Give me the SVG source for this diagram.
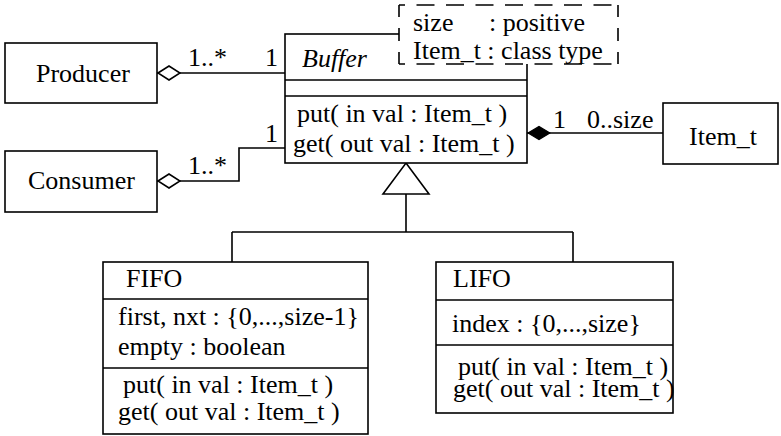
<svg xmlns="http://www.w3.org/2000/svg" width="781" height="436" viewBox="0 0 781 436">
  <style>
    text { font-family: "Liberation Serif", "Times New Roman", serif; font-size: 26px; fill: #000; }
    .box { fill: #fff; stroke: #000; stroke-width: 1.6; }
    .ln { fill: none; stroke: #000; stroke-width: 1.6; }
    .dh { fill: none; stroke: #000; stroke-width: 1.6; stroke-dasharray: 18 11.5; stroke-dashoffset: 12; }
    .dv { fill: none; stroke: #000; stroke-width: 1.6; stroke-dasharray: 12 11 13 11 12 100; }
  </style>
  <defs>
    <marker id="aggr" viewBox="0 0 24 16" refX="0" refY="8" markerWidth="24" markerHeight="16" markerUnits="userSpaceOnUse" orient="auto">
      <path d="M1,8 L12,1 L23,8 L12,15 Z" fill="#fff" stroke="#000" stroke-width="1.6"/>
    </marker>
    <marker id="comp" viewBox="0 0 24 16" refX="0" refY="8" markerWidth="24" markerHeight="16" markerUnits="userSpaceOnUse" orient="auto">
      <path d="M1,8 L12,1.5 L23,8 L12,14.5 Z" fill="#000" stroke="#000" stroke-width="1.2"/>
    </marker>
  </defs>

  <!-- associations, composition and generalization -->
  <g id="connectors">
    <path class="ln" d="M157,73 L285,73" marker-start="url(#aggr)"/>
    <text x="188" y="66">1..*</text>
    <text x="265" y="66">1</text>
    <path class="ln" d="M157,181 L239,181 L239,148 L285,148" marker-start="url(#aggr)"/>
    <text x="188" y="174">1..*</text>
    <text x="265" y="142">1</text>
    <path class="ln" d="M527,133 L663,133" marker-start="url(#comp)"/>
    <text x="553" y="128">1</text>
    <text x="587" y="128">0..size</text>
    <path class="ln" d="M406,194 L406,232 M232,232 L573,232 M232,232 L232,262 M573,232 L573,262"/>
    <path class="box" d="M406,163 L429,194 L383,194 Z"/>
  </g>

  <g id="producer">
    <rect class="box" x="5" y="43" width="152" height="60"/>
    <text x="36" y="82">Producer</text>
  </g>

  <g id="consumer">
    <rect class="box" x="5" y="151" width="152" height="61"/>
    <text x="28" y="189">Consumer</text>
  </g>

  <g id="buffer">
    <rect class="box" x="285" y="34" width="242" height="129"/>
    <path class="ln" d="M285,80 L527,80 M285,96 L527,96"/>
    <text x="302" y="67" font-style="italic">Buffer</text>
    <text x="297" y="122">put( in val : Item_t )</text>
    <text x="293" y="152">get( out val : Item_t )</text>
  </g>

  <!-- template parameter box, drawn over the Buffer corner -->
  <g id="template-params">
    <rect x="399" y="5" width="219" height="59" fill="#fff"/>
    <path class="dh" d="M399,5 L618,5 M399,64 L618,64"/>
    <path class="dv" d="M399,5 L399,64 M618,5 L618,64"/>
    <text x="413" y="31">size</text>
    <text x="489" y="31">: positive</text>
    <text x="413" y="59">Item_t : class type</text>
  </g>

  <g id="item_t">
    <rect class="box" x="663" y="103" width="115" height="61"/>
    <text x="689" y="145">Item_t</text>
  </g>

  <g id="fifo">
    <rect class="box" x="103" y="262" width="265" height="172"/>
    <path class="ln" d="M103,299 L368,299 M103,368 L368,368"/>
    <text x="126" y="287">FIFO</text>
    <text x="118" y="325">first, nxt : {0,...,size-1}</text>
    <text x="118" y="355">empty : boolean</text>
    <text x="123" y="393">put( in val : Item_t )</text>
    <text x="118" y="420">get( out val : Item_t )</text>
  </g>

  <g id="lifo">
    <rect class="box" x="436" y="262" width="237" height="151"/>
    <path class="ln" d="M436,300 L673,300 M436,345 L673,345"/>
    <text x="453" y="287">LIFO</text>
    <text x="452" y="332">index : {0,...,size}</text>
    <text x="458" y="375">put( in val : Item_t )</text>
    <text x="453" y="397">get( out val : Item_t )</text>
  </g>
</svg>
